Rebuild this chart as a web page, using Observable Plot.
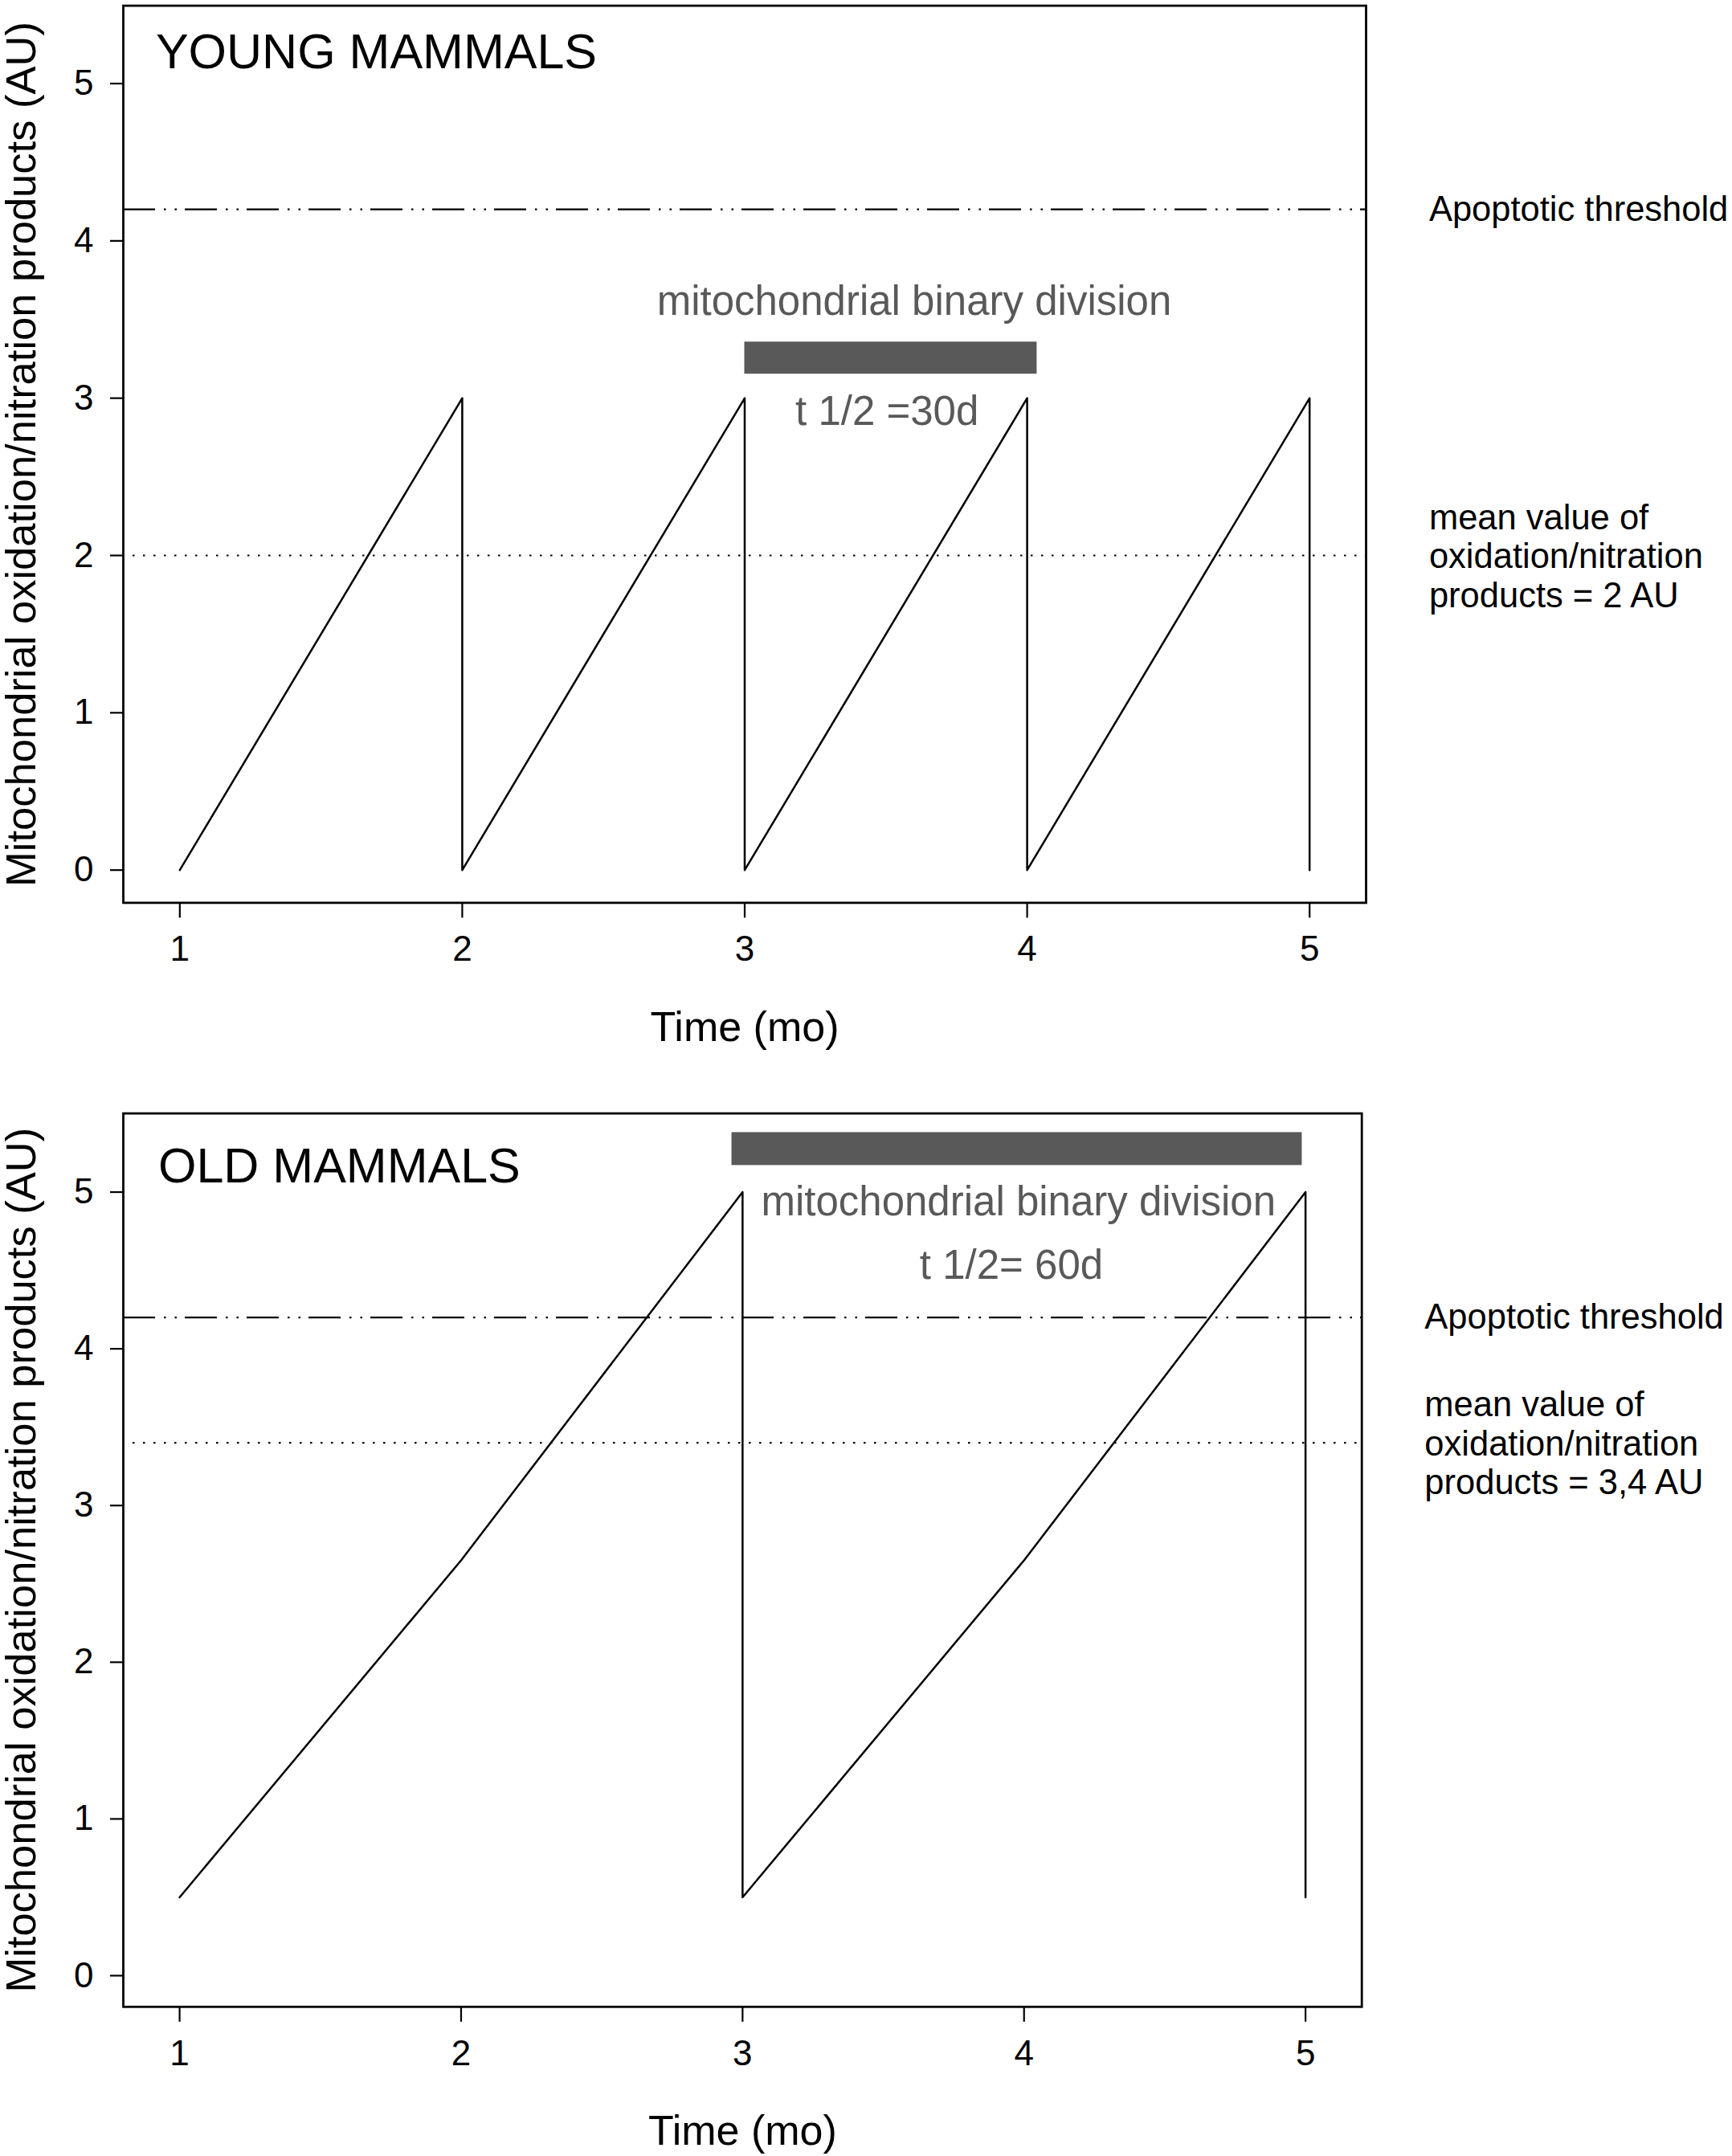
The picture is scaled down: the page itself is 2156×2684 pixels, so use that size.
<!DOCTYPE html>
<html>
<head>
<meta charset="utf-8">
<script src="https://cdn.jsdelivr.net/npm/d3@7"></script>
<script src="https://cdn.jsdelivr.net/npm/@observablehq/plot@0.6"></script>
<style>
  html, body { margin: 0; padding: 0; background: #ffffff; }
  #chart > div, #chart > svg { display: block; }
</style>
</head>
<body>
<div id="chart"></div>
<script>
// ---- data ----
const timeTicks = [1, 2, 3, 4, 5];
const levelTicks = [0, 1, 2, 3, 4, 5];

const youngTime  = [1, 2, 2, 3, 3, 4, 4, 5, 5];
const youngLevel = [0, 3, 0, 3, 0, 3, 0, 3, 0];
const youngMean = 2;
const youngDivisionStart = 3.0, youngDivisionEnd = 4.035;
const youngDivisionLow = 3.153, youngDivisionHigh = 3.357;

const oldTime  = [1, 2, 3, 3, 4, 5, 5];
const oldLevel = [0.5, 2.65, 5, 0.5, 2.65, 5, 0.5];
const oldMean = 3.4;
const oldDivisionStart = 2.962, oldDivisionEnd = 4.988;
const oldDivisionLow = 5.17, oldDivisionHigh = 5.38;

const apoptoticThreshold = 4.2;

const panelTitles = ["YOUNG MAMMALS", "OLD MAMMALS"];
const halfLives = ["t 1/2 =30d", "t 1/2= 60d"];
const meanLabels = [
  "mean value of\noxidation/nitration\nproducts = 2 AU",
  "mean value of\noxidation/nitration\nproducts = 3,4 AU"
];
const xLabel = "Time (mo)";
const yLabel = "Mitochondrial oxidation/nitration products (AU)";

// ---- drawing ----
const FONT = "'Liberation Sans', Arial, Helvetica, sans-serif";
const GREY = "#595959";

function panel(cfg) {
  const pts = cfg.time.map((t, i) => ({t, v: cfg.level[i]}));
  return Plot.plot({
    width: 2156,
    height: cfg.height,
    marginLeft: 153,
    marginRight: cfg.marginRight,
    marginTop: cfg.marginTop,
    marginBottom: cfg.marginBottom,
    style: {fontFamily: FONT, fontSize: "44px", background: "#ffffff", overflow: "visible", color: "black"},
    x: {domain: [0.8, 5.2]},
    y: {domain: cfg.yDomain},
    marks: [
      Plot.ruleY([apoptoticThreshold], {stroke: "black", strokeWidth: 2.2, strokeDasharray: "40 11 2.5 11 2.5 10"}),
      Plot.ruleY([cfg.mean], {stroke: "black", strokeWidth: 2.2, strokeDasharray: "2.5 10.5", strokeDashoffset: -12}),
      Plot.rect([0], {x1: cfg.barX1, x2: cfg.barX2, y1: cfg.barY1, y2: cfg.barY2, fill: GREY}),
      Plot.line(pts, {x: "t", y: "v", stroke: "black", strokeWidth: 2.5}),
      Plot.frame({stroke: "black", strokeWidth: 2.8}),
      Plot.axisX({ticks: timeTicks, tickSize: 19, tickPadding: 22, fontSize: 44, label: null, strokeWidth: 2.2, tickFormat: d => String(d)}),
      Plot.axisY({ticks: levelTicks, tickSize: 16, tickPadding: 21, fontSize: 44, label: null, strokeWidth: 2.2, tickFormat: d => String(d)}),
      // panel title
      Plot.text([cfg.title], {x: cfg.titleX, y: cfg.titleY, text: d => d, textAnchor: "start", lineAnchor: "bottom", fontSize: 61, fill: "black"}),
      // division annotation
      Plot.text(["mitochondrial binary division"], {x: cfg.divTextX, y: cfg.divTextY, text: d => d, textAnchor: "middle", lineAnchor: "bottom", fontSize: 51, fill: GREY}),
      Plot.text([cfg.halfLife], {x: cfg.halfX, y: cfg.halfY, text: d => d, textAnchor: "middle", lineAnchor: "bottom", fontSize: 51, fill: GREY}),
      // right side labels
      Plot.text(["Apoptotic threshold"], {x: 5.423, y: apoptoticThreshold, text: d => d, textAnchor: "start", lineAnchor: "middle", fontSize: 43.5, fill: "black"}),
      Plot.text([cfg.meanLabel], {x: 5.423, y: cfg.mean, text: d => d, textAnchor: "start", lineAnchor: "middle", lineHeight: 1.115, fontSize: 43.5, fill: "black"}),
      // axis titles
      Plot.text([xLabel], {frameAnchor: "bottom", dy: 171.6, text: d => d, textAnchor: "middle", lineAnchor: "bottom", fontSize: 52, fill: "black"}),
      Plot.text([yLabel], {frameAnchor: "left", dx: -109.5, rotate: -90, text: d => d, textAnchor: "middle", lineAnchor: "bottom", fontSize: 52.5, fill: "black"})
    ]
  });
}

const chart = document.getElementById("chart");
chart.append(panel({
  height: 1300, marginTop: 6.6, marginBottom: 176.6, marginRight: 456,
  yDomain: [-0.208, 5.495],
  time: youngTime, level: youngLevel, mean: youngMean,
  barX1: youngDivisionStart, barX2: youngDivisionEnd, barY1: youngDivisionLow, barY2: youngDivisionHigh,
  title: panelTitles[0], titleX: 0.915, titleY: 5.097,
  divTextX: 3.60, divTextY: 3.527,
  halfLife: halfLives[0], halfX: 3.504, halfY: 2.83,
  meanLabel: meanLabels[0]
}));
chart.append(panel({
  height: 1384, marginTop: 85.6, marginBottom: 186.2, marginRight: 461.3,
  yDomain: [-0.199, 5.502],
  time: oldTime, level: oldLevel, mean: oldMean,
  barX1: oldDivisionStart, barX2: oldDivisionEnd, barY1: oldDivisionLow, barY2: oldDivisionHigh,
  title: panelTitles[1], titleX: 0.924, titleY: 5.06,
  divTextX: 3.98, divTextY: 4.85,
  halfLife: halfLives[1], halfX: 3.955, halfY: 4.445,
  meanLabel: meanLabels[1]
}));
</script>
</body>
</html>
